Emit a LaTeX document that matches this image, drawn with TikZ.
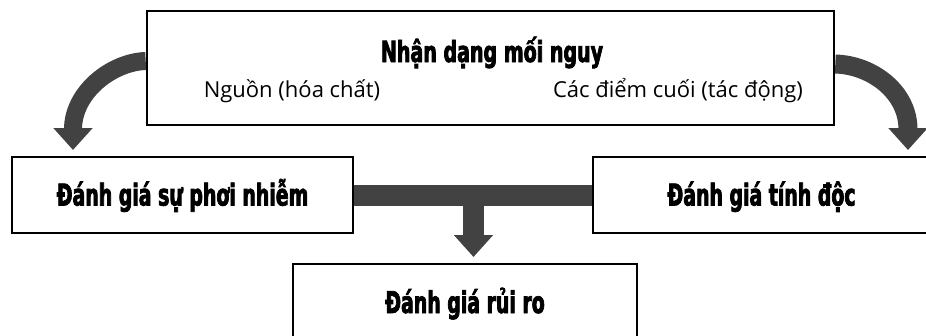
\documentclass[tikz,border=0pt]{standalone}
\usepackage{fontspec}
\setmainfont{Open Sans}
\newfontfamily\heavyfont{DejaVu Sans Condensed Bold}[FakeStretch=0.7,FakeBold=2.5]
\newfontfamily\titlefont{DejaVu Sans Condensed Bold}[FakeStretch=0.73,FakeBold=2.5]
\usetikzlibrary{arrows.meta}
\pgfdeclarelayer{background}
\pgfsetlayers{background,main}
\definecolor{flowgray}{gray}{0.26}
\tikzset{
  box/.style={draw=black, line width=2.6pt, fill=white, inner sep=0pt,
    text height=21pt, text depth=0pt},
  heading/.style={font=\heavyfont\fontsize{30}{34}\selectfont},
  titletext/.style={font=\titlefont\fontsize{29}{33}\selectfont, inner sep=0pt},
  note/.style={font=\fontsize{22}{26}\selectfont, inner sep=0pt},
  flow/.style={draw=flowgray, line width=18pt,
    -{Triangle[width=38pt,length=22pt]}},
  bar/.style={draw=flowgray, line width=21pt},
}
\begin{document}
\begin{tikzpicture}[x=1pt,y=-1pt]
\useasboundingbox (0,0) rectangle (926,335);

% hazard identification box and its texts
\node[box, minimum width=687pt, minimum height=114pt] (hazard) at (490.5,68) {};
\node[titletext, anchor=base] (title) at (492,62) {Nhận dạng mối nguy};
\node[note, anchor=base] (source) at (292,97) {Nguồn (hóa chất)};
\node[note, anchor=base] (endpoints) at (678,97) {Các điểm cuối (tác động)};

% assessment boxes
\node[box, heading, minimum width=341pt, minimum height=76pt] (exposure) at (182.5,195) {Đánh giá sự phơi nhiễm};
\node[box, heading, minimum width=337pt, minimum height=76pt] (toxicity) at (761.5,195) {Đánh giá tính độc};
\node[box, heading, minimum width=344pt, minimum height=77pt] (risk) at (465,302.5) {Đánh giá rủi ro};

% arrow end points
\coordinate (tipL) at (73,150);
\coordinate (tipR) at (908,150);
\coordinate (join) at (473.5,195);
\coordinate (tipM) at (473.5,257);

\begin{pgfonlayer}{background}
  \draw[flow] ([yshift=7pt]hazard.west) .. controls (112,62) and (73,92) .. (tipL);
  \draw[flow, line width=19pt] ([yshift=4pt]hazard.east) .. controls (872,65) and (908,92) .. (tipR);
  \draw[bar] (exposure.east) -- (toxicity.west);
  \draw[flow, line width=21pt] (join) -- (tipM);
\end{pgfonlayer}
\end{tikzpicture}
\end{document}
